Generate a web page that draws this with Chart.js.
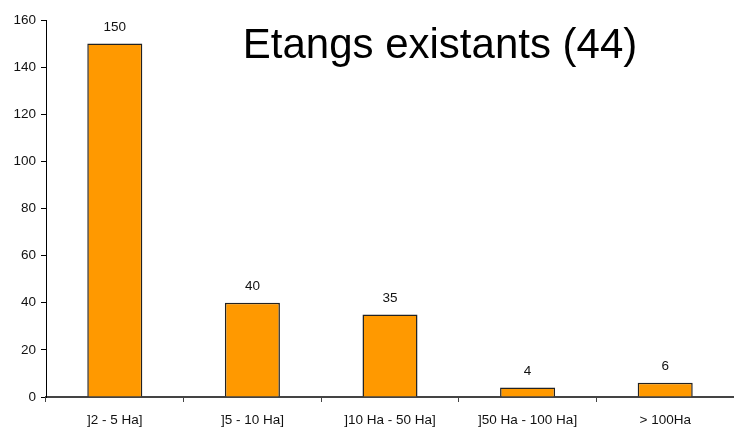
<!DOCTYPE html>
<html>
<head>
<meta charset="utf-8">
<script src="https://cdn.jsdelivr.net/npm/chart.js@4.4.0/dist/chart.umd.min.js"></script>
<style>
  html, body { margin: 0; padding: 0; background: #fff; }
  #wrap { width: 734px; height: 432px; }
</style>
</head>
<body>
<div id="wrap"><canvas id="etangsChart"></canvas></div>
<script>
// data
const categories = [']2 - 5 Ha]', ']5 - 10 Ha]', ']10 Ha - 50 Ha]', ']50 Ha - 100 Ha]', '> 100Ha'];
const etangs = [150, 40, 35, 4, 6];
const yTicks = [0, 20, 40, 60, 80, 100, 120, 140, 160];
const chartTitle = 'Etangs existants (44)';

const fontFamily = '"Liberation Sans", Arial, sans-serif';

// draws value above each bar + the title inside the plot
const valueLabels = {
    id: 'valueLabels',
    afterDatasetsDraw(chart) {
        const ctx = chart.ctx;
        const meta = chart.getDatasetMeta(0);
        ctx.save();
        ctx.fillStyle = '#111';
        ctx.font = '13.5px ' + fontFamily;
        ctx.textAlign = 'center';
        ctx.textBaseline = 'alphabetic';
        meta.data.forEach((bar, i) => {
            ctx.fillText(String(etangs[i]), bar.x, bar.y - 13);
        });
        // title
        const area = chart.chartArea;
        ctx.fillStyle = '#000';
        ctx.font = '42px ' + fontFamily;
        ctx.fillText(chartTitle, area.left + 394, area.top + 38);
        ctx.restore();
    }
};

const ctx = document.getElementById('etangsChart').getContext('2d');
new Chart(ctx, {
    type: 'bar',
    data: {
        labels: categories,
        datasets: [{
            label: 'Etangs',
            data: etangs,
            backgroundColor: '#FF9900',
            borderColor: '#222222',
            borderWidth: 1.5,
            categoryPercentage: 1,
            barPercentage: 0.4
        }]
    },
    options: {
        responsive: true,
        maintainAspectRatio: false,
        animation: false,
        layout: { padding: { top: 20, right: 0, left: 0, bottom: 0 } },
        plugins: {
            legend: { display: false },
            tooltip: { enabled: false },
            title: { display: false }
        },
        scales: {
            x: {
                afterFit(scale) { scale.height = 35; },
                grid: {
                    offset: true,
                    drawOnChartArea: false,
                    tickLength: 5,
                    color: '#444'
                },
                border: { color: '#444', width: 2 },
                ticks: {
                    color: '#111',
                    padding: 10,
                    maxRotation: 0,
                    font: { family: fontFamily, size: 13.5 }
                }
            },
            y: {
                min: 0,
                max: 160,
                afterFit(scale) { scale.width = 46; },
                afterBuildTicks(scale) { scale.ticks = yTicks.map(v => ({ value: v })); },
                grid: {
                    drawOnChartArea: false,
                    tickLength: 5,
                    color: '#000'
                },
                border: { color: '#000', width: 1 },
                ticks: {
                    color: '#111',
                    padding: 5,
                    font: { family: fontFamily, size: 13.5 }
                }
            }
        }
    },
    plugins: [valueLabels]
});
</script>
</body>
</html>
